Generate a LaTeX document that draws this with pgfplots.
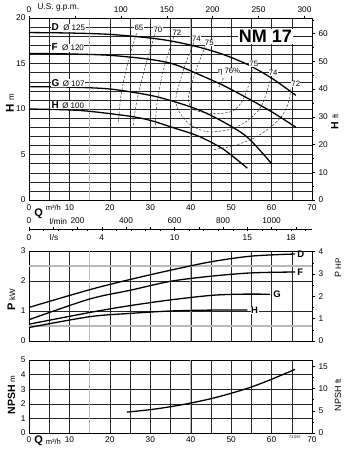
\documentclass[border=0pt]{standalone}
\usepackage{pgfplots}
\pgfplotsset{compat=1.18}
\usepackage{fontspec}
\setmainfont{Liberation Sans}
\begin{document}
\begin{tikzpicture}
\useasboundingbox (0pt,0pt) rectangle (345pt,451pt);
\tikzset{elab/.style={font=\fontsize{7.8}{8}\selectfont, fill=white, inner sep=0.3pt}}
\pgfplotsset{
  base/.style={
    scale only axis, width=283pt,
    /pgf/number format/assume math mode=true,
    tick label style={font=\fontsize{8.3}{9}\selectfont},
    axis line style={line width=0.7pt},
    tick style={black, line width=0.4pt},
    xmin=0, xmax=70,
    clip=false,
  },
  gridded/.style={
    grid=both,
    major grid style={black!85, line width=0.4pt},
    minor grid style={black!85, line width=0.4pt},
    tick align=inside, major tick length=0pt, minor tick length=0pt,
    extra x ticks={15,40}, extra x tick labels={},
    extra x tick style={major grid style={black!28, line width=1.1pt}},
  },
  curve/.style={black, line width=1.3pt, smooth, no markers},
  eff/.style={black!85, line width=0.45pt, dash pattern=on 2.4pt off 1.6pt, smooth, no markers},
  rightax/.style={scale only axis, width=283pt, hide x axis, axis y line*=right,
    ytick align=outside, major tick length=3pt, minor tick length=1.8pt,
    tick label style={font=\fontsize{8.3}{9}\selectfont},
    /pgf/number format/assume math mode=true,
    axis line style={line width=0.7pt}, tick style={black, line width=0.4pt},
    xmin=0, xmax=70, clip=false},
  secax/.style={scale only axis, width=283pt, height=1pt, ymin=0, ymax=1, hide y axis,
    tick label style={font=\fontsize{8.3}{9}\selectfont},
    /pgf/number format/assume math mode=true, /pgf/number format/1000 sep={},
    axis line style={line width=0.5pt}, tick style={black, line width=0.4pt}, clip=false},
}

% ================= H-Q chart =================
\begin{axis}[base, gridded, at={(29pt,251pt)}, anchor=south west, height=182pt,
  ymin=0, ymax=20,
  xtick={0,10,...,70}, minor xtick={5,15,...,65},
  ytick={0,5,...,20}, minor ytick={0,1,...,20},
  xticklabel style={yshift=-1.5pt},
]
\addplot[curve] coordinates {(0,18.4)(10,18.35)(20,18.2)(30,17.8)(36,17.4)(42,16.8)(48,16.0)(54,14.9)(60,13.4)(66,11.5)};
\addplot[curve] coordinates {(0,16.1)(10,16.05)(20,15.9)(30,15.45)(36,14.9)(42,13.8)(48,12.6)(54,11.2)(60,9.7)(66,8.0)};
\addplot[curve] coordinates {(0,12.45)(10,12.4)(20,12.2)(30,11.5)(36,10.8)(42,9.9)(48,8.6)(54,6.9)(60,4.0)};
\addplot[curve] coordinates {(0,10.0)(10,9.9)(16,9.7)(25,9.2)(30,8.75)(36,7.9)(42,7.0)(48,5.6)(54,3.5)};
% efficiency
\addplot[eff] coordinates {(26.6,18.3)(25,16)(23.6,13.5)(22.6,11)(22.1,8.4)};
\addplot[eff] coordinates {(31.2,18.3)(29.5,15.8)(27.8,13)(26.5,10.5)(25.8,8.2)};
\addplot[eff] coordinates {(35.8,17.9)(34,15.5)(32.5,12.8)(31.5,10)(31.2,7.6)};
\addplot[eff] coordinates {(40.8,17.3)(38.6,14.8)(37,12.5)(36.3,11)(37,9.8)(39.5,8.4)(43,7.6)(46,7.5)(50,7.8)(54,8.7)(57.2,10.1)(58.9,12)(59.9,13.6)};
\addplot[eff] coordinates {(43.6,16.9)(41.6,14.6)(40.1,12.5)(39.4,11)(40.5,10)(43.5,9.6)(47,9.5)(50.5,9.8)(52.8,10.9)(54.4,12.7)(55.3,14.4)};
\addplot[eff] coordinates {(48.1,13.4)(46.9,12.3)};
\addplot[eff] coordinates {(64.8,12.2)(64,10.5)(62.5,9.2)(60,8.1)(56,6.9)(51,6)(45.2,5.5)};
\node[elab] at (axis cs:27.2,18.95) {65};
\node[elab] at (axis cs:31.9,18.75) {70};
\node[elab] at (axis cs:36.6,18.35) {72};
\node[elab] at (axis cs:41.4,17.75) {74};
\node[elab] at (axis cs:44.6,17.3) {75};
\node[elab] at (axis cs:49.5,14.1) {η 76\%};
\node[elab] at (axis cs:55.6,15.0) {75};
\node[elab] at (axis cs:60.4,14.0) {74};
\node[elab] at (axis cs:66.0,12.75) {72};
% curve names
\node[anchor=west, fill=white, inner sep=0.5pt] at (axis cs:5.4,18.95) {\fontsize{10}{11}\selectfont\bfseries D\hspace{4.5pt}\mdseries\fontsize{8}{9}\selectfont Ø 125};
\node[anchor=west, fill=white, inner sep=0.5pt] at (axis cs:5.4,16.75) {\fontsize{10}{11}\selectfont\bfseries F\hspace{4.5pt}\mdseries\fontsize{8}{9}\selectfont Ø 120};
\node[anchor=west, fill=white, inner sep=0.5pt] at (axis cs:5.4,12.85) {\fontsize{10}{11}\selectfont\bfseries G\hspace{3.5pt}\mdseries\fontsize{8}{9}\selectfont Ø 107};
\node[anchor=west, fill=white, inner sep=0.5pt] at (axis cs:5.4,10.45) {\fontsize{10}{11}\selectfont\bfseries H\hspace{3.5pt}\mdseries\fontsize{8}{9}\selectfont Ø 100};
\node[fill=white, inner sep=1pt] at (axis cs:58.5,17.95) {\fontsize{18}{19}\selectfont\bfseries NM 17};
% axis labels
\node[font=\bfseries\fontsize{11}{12}\selectfont] at (axis cs:2.4,-1.5) {Q};
\node[font=\fontsize{7.6}{9}\selectfont, anchor=west, inner sep=0pt] at (axis cs:4.1,-0.85) {m³/h};
\node[rotate=90] at (axis description cs:-0.067,0.533) {\bfseries\fontsize{11.5}{12}\selectfont H \mdseries\fontsize{8}{9}\selectfont m};
\node[rotate=90] at (axis description cs:1.081,0.43) {\bfseries\fontsize{10.5}{12}\selectfont H \mdseries\fontsize{8}{9}\selectfont ft};
\end{axis}

% g.p.m. scale on top
\begin{axis}[secax, height=182pt, at={(29pt,251pt)}, anchor=south west,
  xmin=0, xmax=308.2, axis x line*=top,
  xtick={0,50,...,300}, xticklabels={0,,100,150,200,250,300},
  xtick align=outside, major tick length=2pt]
\node[anchor=west, font=\fontsize{8.3}{9}\selectfont] at (axis description cs:0.018,1.06) {U.S. g.p.m.};
\end{axis}

% ft scale on right
\begin{axis}[rightax, at={(29pt,251pt)}, anchor=south west, height=182pt,
  ymin=0, ymax=65.617, ytick={0,10,...,60}, minor ytick={5,15,...,65}]
\end{axis}

% l/min scale
\begin{axis}[secax, at={(29pt,221pt)}, anchor=south west,
  xmin=0, xmax=1166.7, axis x line*=top,
  xtick={0,200,...,1000}, minor xtick={100,300,...,1100},
  xtick align=outside, major tick length=2pt, minor tick length=2pt]
\node[anchor=west, font=\fontsize{8.3}{9}\selectfont] at (axis cs:70,8.5) {l/min};
\end{axis}

% l/s scale
\begin{axis}[secax, at={(29pt,222pt)}, anchor=south west,
  xmin=0, xmax=19.444, axis x line*=bottom,
  xtick={0,5,10,15,18}, xticklabels={0,4,10,15,18},
  minor xtick={1,2,...,19},
  xtick align=outside, major tick length=2.5pt, minor tick length=1.8pt]
\node[anchor=west, font=\fontsize{8.3}{9}\selectfont] at (axis cs:1.2,-8.5) {l/s};
\end{axis}

% ================= Power chart =================
\begin{axis}[base, gridded, at={(29pt,110pt)}, anchor=south west, height=90pt,
  ymin=0, ymax=3,
  xtick={0,10,...,70}, minor xtick={5,15,...,65}, xticklabels={},
  ytick={0,1,2,3},
  extra y ticks={0.5,2.5}, extra y tick labels={},
  extra y tick style={major grid style={black!28, line width=1.1pt}},
]
\addplot[curve] coordinates {(0,1.12)(15,1.71)(25,2.05)(35,2.36)(45,2.64)(55,2.83)(65.8,2.9)};
\addplot[curve] coordinates {(0,0.71)(15,1.40)(25,1.69)(35,1.99)(45,2.16)(55,2.27)(65.8,2.3)};
\addplot[curve] coordinates {(0,0.56)(15,0.95)(25,1.18)(35,1.37)(45,1.52)(52,1.56)(59.6,1.56)};
\addplot[curve] coordinates {(0,0.45)(15,0.81)(25,0.92)(35,1.0)(45,1.03)(54,1.03)};
\node[anchor=west, inner sep=0.5pt, font=\bfseries\fontsize{9.5}{10}\selectfont] at (axis cs:66.2,2.9) {D};
\node[anchor=west, inner sep=0.5pt, font=\bfseries\fontsize{9.5}{10}\selectfont] at (axis cs:66.2,2.3) {F};
\node[anchor=west, fill=white, inner sep=0.5pt, font=\bfseries\fontsize{9.5}{10}\selectfont] at (axis cs:60.3,1.56) {G};
\node[anchor=west, fill=white, inner sep=0.5pt, font=\bfseries\fontsize{9.5}{10}\selectfont] at (axis cs:54.8,1.02) {H};
\node[rotate=90] at (axis description cs:-0.062,0.456) {\bfseries\fontsize{11}{12}\selectfont P \mdseries\fontsize{8}{9}\selectfont kW};
\node[rotate=90] at (axis description cs:1.092,0.81) {\fontsize{9}{10}\selectfont P \fontsize{8}{9}\selectfont HP};
\end{axis}
\begin{axis}[rightax, at={(29pt,110pt)}, anchor=south west, height=90pt,
  ymin=0, ymax=4.023, ytick={0,1,...,4}, minor ytick={0.5,1.5,...,3.5}]
\end{axis}

% ================= NPSH chart =================
\begin{axis}[base, gridded, at={(29pt,18pt)}, anchor=south west, height=73pt,
  ymin=0, ymax=5,
  xtick={0,10,...,70}, minor xtick={5,15,...,65},
  ytick={0,1,...,5},
  xticklabel style={yshift=-0.5pt},
]
\addplot[curve] coordinates {(24.2,1.43)(30,1.6)(35,1.8)(40,2.05)(45,2.35)(50,2.72)(55,3.15)(60,3.68)(65.8,4.36)};
\node[font=\bfseries\fontsize{11}{12}\selectfont] at (axis cs:2.4,-0.55) {Q};
\node[font=\fontsize{7.6}{9}\selectfont, anchor=west, inner sep=0pt] at (axis cs:4.1,-0.58) {m³/h};
\node[font=\fontsize{3.8}{4}\selectfont] at (axis cs:65.8,-0.3) {72.057};
\node[rotate=90] at (axis description cs:-0.062,0.52) {\bfseries\fontsize{10.5}{12}\selectfont NPSH \mdseries\fontsize{8}{9}\selectfont m};
\node[rotate=90] at (axis description cs:1.092,0.52) {\fontsize{9}{10}\selectfont NPSH \fontsize{8}{9}\selectfont ft};
\end{axis}
\begin{axis}[rightax, at={(29pt,18pt)}, anchor=south west, height=73pt,
  ymin=0, ymax=16.404, ytick={0,5,10,15}, minor ytick={2.5,7.5,12.5}]
\end{axis}
\end{tikzpicture}
\end{document}
